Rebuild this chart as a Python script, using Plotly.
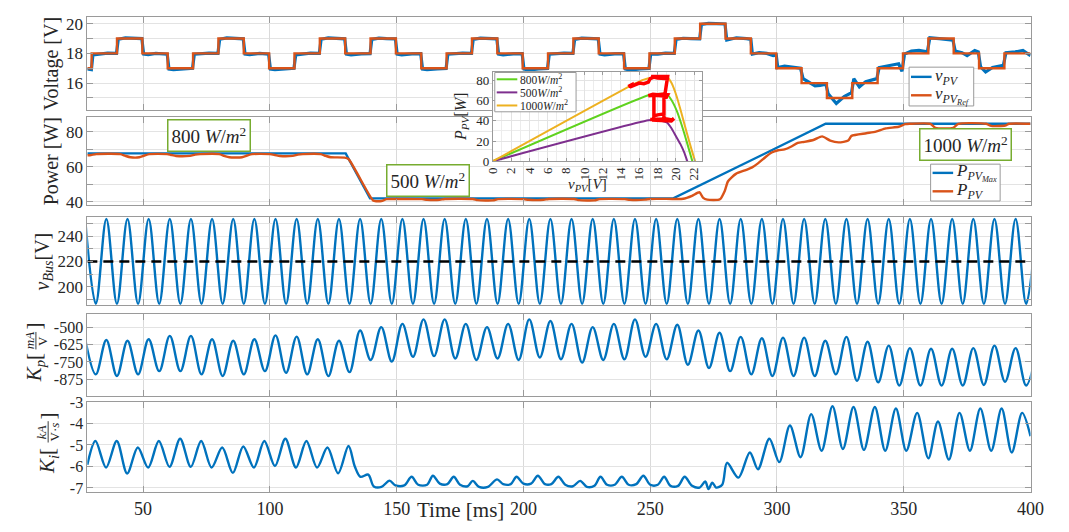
import plotly.graph_objects as go

# ---------------- data ----------------
# Panel 1: PV voltage reference (step changes) and measured PV voltage
VREF_T = [28, 29.7, 39.7, 49.7, 59.7, 69.7, 79.7, 89.7, 99.7, 109.7, 119.7, 129.7,
          139.7, 149.7, 159.7, 169.7, 179.7, 189.7, 199.7, 209.7, 219.7, 229.7, 239.7,
          249.7, 259.7, 269.7, 279.7, 289.7, 299.7, 309.7, 319.7, 329.7, 339.7, 349.7,
          359.7, 369.7, 379.7, 389.7, 400]
VREF_V = [17, 18, 19, 18, 17, 18, 19, 18, 17, 18, 19, 18,
          19, 18, 17, 18, 19, 18, 17, 18, 19, 18, 17,
          18, 19, 20, 19, 18, 17, 16, 15, 16, 17, 18,
          19, 18, 17, 18, 18]

VPV_T = [28, 29.6,
         30.2, 33, 36, 39.5, 40.2, 43, 46, 49.5, 50.2, 52, 55, 59.5, 60.2, 62, 66, 69.5,
         70.2, 73, 76, 79.5, 80.2, 83, 86, 89.5, 90.2, 92, 96, 99.5, 100.2, 102, 106, 109.5,
         110.2, 113, 116, 119.5, 120.2, 123, 126, 129.5, 130.2, 132, 136, 139.5,
         140.2, 143, 146, 149.5, 150.2, 152, 156, 159.5, 160.2, 162, 166, 169.5,
         170.2, 173, 176, 179.5, 180.2, 183, 186, 189.5, 190.2, 192, 196, 199.5,
         200.2, 202, 206, 209.5, 210.2, 213, 216, 219.5, 220.2, 223, 226, 229.5,
         230.2, 232, 236, 239.5, 240.2, 242, 246, 249.5, 250.2, 253, 256, 259.5,
         260.2, 263, 266, 269.5, 270.2, 273, 276, 279.5,
         280.2, 284, 288, 289.7, 290.3, 293, 296, 298.5, 299.7,
         300.3, 303, 306, 309.3, 310.3, 312.5, 315, 317, 319.3,
         320.2, 323.4, 326.5, 329.4, 330.3, 332.5, 335, 339.4,
         340.3, 344, 348, 349.3, 350.3, 353, 356, 359.3,
         360.3, 364, 368, 369.4, 370.3, 373, 375, 378, 379.4,
         380.3, 382.3, 385, 389.3, 390.3, 394, 397, 400]
VPV_V = [16.95, 16.9,
         17.9, 17.95, 18.02, 18.0, 18.95, 19.05, 19.02, 19.0, 17.95, 17.92, 18.0, 17.95, 16.95, 16.9, 16.95, 17.0,
         17.95, 17.98, 18.02, 18.0, 18.95, 19.05, 19.0, 18.98, 17.95, 17.92, 18.0, 17.95, 16.95, 16.9, 16.95, 17.0,
         17.9, 17.97, 18.02, 18.0, 18.95, 19.05, 19.02, 18.98, 17.95, 17.9, 17.97, 17.98,
         18.95, 19.03, 19.0, 18.98, 17.95, 17.9, 17.97, 17.98, 16.95, 16.9, 16.95, 16.98,
         17.95, 17.98, 18.02, 18.0, 18.95, 19.03, 19.0, 18.98, 17.95, 17.9, 17.97, 17.98,
         16.95, 16.88, 16.95, 16.98, 17.95, 17.98, 18.02, 18.0, 18.95, 19.03, 19.0, 18.98,
         17.95, 17.9, 17.97, 17.98, 16.95, 16.88, 16.95, 16.98, 17.95, 17.95, 18.02, 18.0,
         18.95, 19.02, 19.0, 18.98, 19.95, 20.02, 20.0, 19.98,
         18.9, 19.05, 19.0, 18.95, 17.95, 18.05, 18.0, 17.85, 17.9,
         17.05, 17.15, 17.1, 17.0, 16.3, 16.05, 15.82, 15.85, 15.93,
         15.28, 14.63, 15.1, 15.35, 16.3, 15.75, 16.1, 16.3,
         17.05, 17.15, 17.3, 16.8, 17.95, 18.15, 18.2, 18.1,
         19.05, 19.0, 18.95, 18.9, 18.15, 18.05, 17.85, 18.2, 18.1,
         17.1, 16.75, 17.05, 17.2, 18.05, 18.1, 18.2, 17.85]

# Panel 2: maximum available PV power and extracted PV power
PMAX_T = [28, 129.9, 139.5, 259.1, 319.2, 400]
PMAX_V = [67.7, 67.7, 42.0, 42.0, 84.6, 84.6]

PPV_T = [28, 29.5, 31.5, 41, 43, 45, 48.5, 50.5, 52.5, 59.5, 61, 63, 68.5, 70.5, 72.5,
         80, 82, 84, 89, 91, 93, 100, 102, 104, 109, 111, 113, 120, 122, 124, 129.5, 131,
         140.7, 142, 144, 146, 148, 152, 160, 162, 167, 169, 180, 182, 188, 190,
         200, 202, 208, 210, 220, 222, 228, 230, 240, 242, 248, 250, 259, 263,
         266.5, 269.4, 270.8, 272.5, 277.5, 279.4, 280.7, 283.8, 287.7, 290.2, 292.5,
         295.4, 297.9, 300.5, 303, 305.5, 308.2, 310.8, 314.6, 317.8, 321, 324.3,
         328.1, 329.4, 335.2, 339, 342.9, 348, 350.6, 352.5, 360.5, 362.5, 369.5,
         371.5, 382.5, 384.5, 390, 391.5, 400]
PPV_V = [66.6, 66.8, 67.3, 67.3, 66.3, 65.5, 65.5, 66.5, 67.3, 67.3, 66.8, 66.2, 66.3, 67.0, 67.3,
         67.3, 66.3, 65.5, 65.5, 66.5, 67.3, 67.3, 66.8, 66.2, 66.3, 67.0, 67.3, 67.3, 66.3, 65.5, 65.3, 64.5,
         40.8, 40.4, 40.5, 41.6, 41.7, 41.7, 41.6, 41.2, 41.2, 41.7, 41.7, 41.0, 40.9, 41.6,
         41.6, 41.2, 41.2, 41.7, 41.7, 41.0, 40.9, 41.6, 41.6, 41.2, 41.3, 41.7, 41.7, 41.8,
         43.5, 45.5, 42.5, 41.3, 41.5, 46.3, 51.8, 56.0, 58.2, 59.7, 62.0,
         65.5, 68.2, 69.5, 70.0, 71.5, 73.7, 74.3, 75.5, 77.4, 75.0, 74.0,
         75.0, 77.7, 79.2, 80.1, 82.0, 82.9, 84.4, 84.6, 84.6, 82.3, 82.3,
         84.6, 84.6, 83.4, 83.6, 84.6, 84.6]

# Panels 3-4: extremum times of the oscillation (ms), bus voltage and Kp at those instants
EXT_T = [27.16, 31.33, 35.50, 39.67, 43.84, 48.01, 52.18, 56.35, 60.52, 64.69,
         68.86, 73.03, 77.20, 81.37, 85.54, 89.71, 93.88, 98.05, 102.22, 106.39,
         110.56, 114.73, 118.90, 123.07, 127.24, 131.41, 135.58, 139.75, 143.92, 148.09,
         152.26, 156.43, 160.60, 164.77, 168.94, 173.11, 177.28, 181.45, 185.62, 189.79,
         193.96, 198.13, 202.30, 206.47, 210.64, 214.81, 218.98, 223.15, 227.32, 231.49,
         235.66, 239.83, 244.00, 248.17, 252.34, 256.51, 260.68, 264.85, 269.02, 273.19,
         277.36, 281.53, 285.70, 289.87, 294.04, 298.21, 302.38, 306.55, 310.72, 314.89,
         319.06, 323.23, 327.40, 331.57, 335.74, 339.91, 344.08, 348.25, 352.42, 356.59,
         360.76, 364.93, 369.10, 373.27, 377.44, 381.61, 385.78, 389.95, 394.12, 398.29,
         402.46]
VBUS_V = [253.5, 186.5, 253.5, 186.5, 253.5, 186.5, 253.5, 186.5, 253.5, 186.5,
          253.5, 186.5, 253.5, 186.5, 253.5, 186.5, 253.5, 186.5, 253.5, 186.5,
          253.5, 186.5, 253.5, 186.5, 253.5, 186.5, 253.5, 186.5, 253.5, 186.5,
          253.5, 186.5, 253.5, 186.5, 253.5, 186.5, 253.5, 186.5, 253.5, 186.5,
          253.5, 186.5, 253.5, 186.5, 253.5, 186.5, 253.5, 186.5, 253.5, 186.5,
          253.5, 186.5, 253.5, 186.5, 253.5, 186.5, 253.5, 186.5, 253.5, 186.5,
          253.5, 186.5, 253.5, 186.5, 253.5, 186.5, 253.5, 186.5, 253.5, 186.5,
          253.5, 186.5, 253.5, 186.5, 253.5, 186.5, 253.5, 186.5, 253.5, 186.5,
          253.5, 186.5, 253.5, 186.5, 253.5, 186.5, 253.5, 186.5, 253.5, 186.5,
          253.5]
VBUS_REF_T = [28, 400]
VBUS_REF_V = [220, 220]
KP_V = [-585, -840, -592, -852, -597, -840, -586, -817, -562, -817,
        -562, -840, -586, -852, -597, -840, -586, -817, -558, -829,
        -567, -840, -586, -852, -597, -824, -523, -736, -498, -748,
        -475, -713, -442, -708, -442, -725, -475, -736, -498, -725,
        -475, -736, -442, -718, -454, -731, -475, -755, -498, -736,
        -475, -731, -442, -713, -475, -731, -481, -771, -523, -794,
        -539, -817, -569, -840, -579, -852, -574, -852, -574, -852,
        -597, -840, -569, -887, -604, -898, -632, -921, -650, -921,
        -655, -921, -655, -921, -650, -917, -632, -894, -650, -921,
        -660]

# Panel 5: Ki
KI_T = [28, 31.2, 35.4, 39.6, 43.7, 47.9, 52.0, 56.2, 60.4, 64.6, 68.8, 72.9, 77.0, 81.2,
        85.4, 89.5, 93.7, 97.8, 102.0, 106.1, 110.3, 114.4, 118.6, 122.7, 126.9, 131.0,
        133.5, 135.7, 138.8, 141.0, 144.0, 147.2, 149.5, 153.0, 155.9, 158.5, 162.0,
        164.3, 167.0, 170.0, 172.5, 175.0, 178.0, 180.0, 182.5, 186.0, 189.6, 192.0, 195.0,
        197.3, 200.0, 203.0, 205.7, 208.5, 211.0, 213.8, 216.5, 219.5, 222.4, 225.0, 228.0,
        230.4, 233.0, 236.0, 238.8, 241.5, 244.5, 247.3, 250.0, 253.0, 255.5, 258.0, 261.0,
        263.6, 266.5, 269.5, 271.7, 273.0, 274.5, 276.0, 278.4,
        280.3, 284.8, 289.3, 292.5, 297.0, 300.9, 305.1, 309.3, 313.5, 317.6, 321.9, 326.0,
        330.2, 334.3, 338.6, 342.7, 346.9, 351.0, 355.3, 359.7, 363.5, 367.8, 372.0, 376.1,
        380.2, 384.5, 388.6, 392.6, 396.7, 400.0]
KI_V = [-5.92, -4.82, -6.05, -4.82, -6.33, -5.12, -6.05, -4.82, -6.02, -4.71, -6.02, -4.82, -6.05, -5.12,
        -6.30, -5.07, -6.05, -4.82, -5.98, -4.71, -6.05, -4.82, -6.05, -5.12, -6.32, -5.05,
        -6.0, -6.48, -6.38, -6.93, -6.95, -6.66, -6.88, -6.88, -6.48, -6.85, -6.85,
        -6.43, -6.8, -6.82, -6.48, -6.85, -6.92, -6.67, -6.95, -6.95, -6.6, -6.82, -6.82,
        -6.48, -6.8, -6.8, -6.43, -6.82, -6.82, -6.48, -6.85, -6.92, -6.67, -6.95, -6.9,
        -6.48, -6.85, -6.85, -6.48, -6.85, -6.82, -6.43, -6.85, -6.85, -6.48, -6.9, -6.9,
        -6.48, -6.9, -6.98, -6.7, -7.05, -6.75, -6.98, -6.85,
        -5.83, -6.52, -5.35, -6.13, -4.71, -5.80, -4.10, -5.57, -3.57, -5.27, -3.20, -5.19,
        -3.24, -5.23, -3.24, -5.27, -3.31, -5.27, -3.51, -5.62, -3.91, -5.68, -3.51, -5.27,
        -3.31, -5.27, -3.31, -5.35, -3.51, -4.59]

# Inset: P-V curves and MPPT trajectory
C800_V = [0, 17, 18, 19, 19.5, 20.1, 20.6, 21.2, 21.8]
C800_P = [0, 65.5, 66.8, 66.5, 61, 50, 37, 19, 0]
C500_V = [0, 17, 18, 19, 19.5, 20.0, 20.5, 20.9, 21.25]
C500_P = [0, 40.6, 41, 38.5, 33, 25, 17, 9, 0]
C1000_V = [0, 15.5, 16.5, 17.5, 18.5, 19.0, 19.5, 20.1, 20.6, 21.2, 21.7, 22.1]
C1000_P = [0, 77, 81, 83, 84, 83.8, 78, 64, 48, 28, 12, 0]
MPPT_V = [14.8, 15.2, 15.2, 16.0, 16.5, 17.0, 17.2, 17.6, 18.2, 19.0, 19.0, 18.0, 17.3, 18.6, 19.1,
          18.8, 17.0, 17.5, 18.0, 18.6, 19.1, 19.0, 17.6, 17.6, 17.6, 18.0, 18.7, 18.7, 18.7, 19.1,
          18.7, 18.7, 17.2, 17.6, 18.2, 19.0, 19.6, 19.8, 19.5, 18.4, 17.4]
MPPT_P = [74, 76, 74.5, 77.5, 77, 78.5, 82, 83.5, 84, 83.5, 82, 82.5, 84, 84.5, 84,
          66, 65, 66.5, 66, 66.5, 66, 64.5, 65.5, 55, 45, 46, 47, 55, 63, 64,
          64, 42, 41.5, 42, 41.5, 42, 41, 42.5, 40, 40.5, 41]

# ---------------- style ----------------
W, H = 1069, 532
FONT = "Liberation Serif"
BLUE = "#0072BD"
ORANGE = "#D95319"
GREEN_BOX = "#77AC30"
G800, P500, Y1000 = "#5FD21E", "#7E2F8E", "#EDB120"
AXC = "#9a9a9a"
GRIDC = "#e3e3e3"
TXT = "#262626"


def px(x):
    return x / W


def py(y):
    return 1 - y / H


X0, X1 = 81, 1044
PANELS = [(9.3, 105), (112.7, 203), (215, 306.7), (315, 400.5), (406, 499.3)]

fig = go.Figure()

# Panel 1
fig.add_trace(go.Scatter(x=VPV_T, y=VPV_V, mode="lines", line=dict(color=BLUE, width=3.2),
                         showlegend=False, xaxis="x", yaxis="y"))
fig.add_trace(go.Scatter(x=VREF_T, y=VREF_V, mode="lines", line=dict(color=ORANGE, width=2.4, shape="hv"),
                         showlegend=False, xaxis="x", yaxis="y"))
# Panel 2
fig.add_trace(go.Scatter(x=PMAX_T, y=PMAX_V, mode="lines", line=dict(color=BLUE, width=2.4),
                         showlegend=False, xaxis="x2", yaxis="y2"))
fig.add_trace(go.Scatter(x=PPV_T, y=PPV_V, mode="lines", line=dict(color=ORANGE, width=2.4, shape="spline", smoothing=0.6),
                         showlegend=False, xaxis="x2", yaxis="y2"))
# Panel 3
fig.add_trace(go.Scatter(x=EXT_T, y=VBUS_V, mode="lines", line=dict(color=BLUE, width=2.4, shape="spline", smoothing=1.0),
                         showlegend=False, xaxis="x3", yaxis="y3"))
fig.add_trace(go.Scatter(x=VBUS_REF_T, y=VBUS_REF_V, mode="lines", line=dict(color="black", width=2.4, dash="10px,6px"),
                         showlegend=False, xaxis="x3", yaxis="y3"))
# Panel 4
fig.add_trace(go.Scatter(x=EXT_T, y=KP_V, mode="lines", line=dict(color=BLUE, width=2.4, shape="spline", smoothing=1.0),
                         showlegend=False, xaxis="x4", yaxis="y4"))
# Panel 5
fig.add_trace(go.Scatter(x=KI_T, y=KI_V, mode="lines", line=dict(color=BLUE, width=2.4, shape="spline", smoothing=0.9),
                         showlegend=False, xaxis="x5", yaxis="y5"))
# Inset
fig.add_trace(go.Scatter(x=C800_V, y=C800_P, mode="lines", line=dict(color=G800, width=2, shape="spline", smoothing=0.5),
                         showlegend=False, xaxis="x6", yaxis="y6"))
fig.add_trace(go.Scatter(x=C500_V, y=C500_P, mode="lines", line=dict(color=P500, width=2, shape="spline", smoothing=0.5),
                         showlegend=False, xaxis="x6", yaxis="y6"))
fig.add_trace(go.Scatter(x=C1000_V, y=C1000_P, mode="lines", line=dict(color=Y1000, width=2, shape="spline", smoothing=0.5),
                         showlegend=False, xaxis="x6", yaxis="y6"))
fig.add_trace(go.Scatter(x=MPPT_V, y=MPPT_P, mode="lines", line=dict(color="#FF0000", width=3.5),
                         showlegend=False, xaxis="x6", yaxis="y6"))

base_x = dict(range=[28, 400], tickvals=[50, 100, 150, 200, 250, 300, 350, 400], showline=True,
              linecolor=AXC, linewidth=1, mirror="ticks", ticks="inside", ticklen=6, tickcolor=AXC,
              showgrid=True, gridcolor="#dadada", zeroline=False, domain=[px(X0), px(X1)],
              tickfont=dict(family=FONT, size=18, color=TXT))


def yax(i, rng, tickvals, ticktext=None, minor_dtick=None, size=17):
    top, bot = PANELS[i]
    d = dict(range=rng, tickvals=tickvals, showline=True, linecolor=AXC, linewidth=1, mirror="ticks",
             ticks="inside", ticklen=6, tickcolor=AXC, showgrid=True, gridcolor=GRIDC, zeroline=False,
             domain=[py(bot), py(top)], tickfont=dict(family=FONT, size=size, color=TXT))
    if ticktext is not None:
        d["ticktext"] = ticktext
    if minor_dtick is not None:
        d["minor"] = dict(dtick=minor_dtick, tick0=0, showgrid=True, gridcolor=GRIDC, ticks="inside",
                          ticklen=6, tickcolor=AXC)
    return d


layout = dict(
    width=W, height=H, margin=dict(l=0, r=0, t=0, b=0),
    paper_bgcolor="white", plot_bgcolor="white", showlegend=False,
    font=dict(family=FONT, color=TXT),
)
for i in range(5):
    key = "xaxis" if i == 0 else f"xaxis{i + 1}"
    d = dict(base_x)
    d["anchor"] = "y" if i == 0 else f"y{i + 1}"
    d["showticklabels"] = (i == 4)
    layout[key] = d

layout["yaxis"] = yax(0, [14.2, 20.45], [16, 18, 20], minor_dtick=1)
layout["yaxis"]["anchor"] = "x"
layout["yaxis2"] = yax(1, [38.3, 88.3], [40, 60, 80], minor_dtick=10)
layout["yaxis2"]["anchor"] = "x2"
layout["yaxis3"] = yax(2, [185.2, 255.5], [200, 220, 240], minor_dtick=10)
layout["yaxis3"]["anchor"] = "x3"
layout["yaxis4"] = yax(3, [-1000, -400], [-500, -625, -750, -875], ["-500", "-625", "-750", "-875"], size=16)
layout["yaxis4"]["anchor"] = "x4"
layout["yaxis5"] = yax(4, [-7.2, -2.995], [-7, -6, -5, -4, -3], ["-7", "-6", "-5", "-4", "-3"], size=16)
layout["yaxis5"]["anchor"] = "x5"

# inset axes
IX0, IX1, IY0, IY1 = 495, 709, 66, 158
layout["xaxis6"] = dict(domain=[px(IX0), px(IX1)], anchor="y6", range=[0, 22.9],
                        tickvals=list(range(0, 23, 2)), tickangle=-90, showline=True, linecolor=AXC,
                        mirror="ticks", ticks="inside", ticklen=3, tickcolor=AXC, showgrid=True,
                        gridcolor=GRIDC, zeroline=False, tickfont=dict(family=FONT, size=13, color=TXT),
                        minor=dict(dtick=1, showgrid=True, gridcolor="#ececec"))
layout["yaxis6"] = dict(domain=[py(IY1), py(IY0)], anchor="x6", range=[0, 88.5],
                        tickvals=[0, 20, 40, 60, 80], showline=True, linecolor=AXC, mirror="ticks",
                        ticks="inside", ticklen=3, tickcolor=AXC, showgrid=True, gridcolor=GRIDC,
                        zeroline=False, tickfont=dict(family=FONT, size=13, color=TXT),
                        minor=dict(dtick=10, showgrid=True, gridcolor="#ececec"))

ann = []
shapes = []


def text_ann(text, x, y, size=20, angle=-90, xanchor="center"):
    ann.append(dict(text=text, x=px(x), y=py(y), xref="paper", yref="paper", showarrow=False,
                    textangle=angle, xanchor=xanchor, yanchor="middle",
                    font=dict(family=FONT, size=size, color=TXT)))


def seg(x0, y0, x1, y1, color, width):
    shapes.append(dict(type="line", xref="paper", yref="paper", x0=px(x0), y0=py(y0),
                       x1=px(x1), y1=py(y1), line=dict(color=color, width=width)))


# axis titles
text_ann("Voltage [V]", 44, 57)
text_ann("Power [W]", 44, 158)
text_ann("<i>v<sub>Bus</sub></i>[V]", 36, 261)
# Kp label with stacked fraction
text_ann("<i>K<sub>p</sub></i>[", 27, 371, size=21)
text_ann("<i>mA</i>", 22, 343, size=13)
seg(28.5, 334, 28.5, 352, TXT, 0.9)
text_ann("V", 35, 343, size=13)
text_ann("]", 27, 328, size=21)
# Ki label with stacked fraction
text_ann("<i>K<sub>i</sub></i>[", 41, 467, size=21)
text_ann("<i>kA</i>", 35, 437, size=13)
seg(41, 426, 41, 448, TXT, 0.9)
text_ann("V·<i>s</i>", 47.5, 437, size=13)
text_ann("]", 41, 421, size=21)

text_ann("Time [ms]", 462, 518, size=21, angle=0)
text_ann("<i>P<sub>PV</sub></i>[<i>W</i>]", 463, 112, size=16)
text_ann("<i>v<sub>PV</sub></i>[<i>V</i>]", 592, 182, size=15, angle=0)


def box_ann(text, x, y):
    ann.append(dict(text=text, x=px(x), y=py(y), xref="paper", yref="paper", showarrow=False,
                    xanchor="center", yanchor="middle", bgcolor="white", bordercolor=GREEN_BOX,
                    borderwidth=1.5, borderpad=3, font=dict(family=FONT, size=19, color=TXT)))


box_ann("800 <i>W</i>/<i>m</i><sup>2</sup>", 205, 131.5)
box_ann("500 <i>W</i>/<i>m</i><sup>2</sup>", 429, 178)
box_ann("1000 <i>W</i>/<i>m</i><sup>2</sup>", 977.5, 140.5)


def legend_box(x0, y0, x1, y1, entries, lx0, lx1, tx, size, lw):
    shapes.append(dict(type="rect", xref="paper", yref="paper", x0=px(x0), y0=py(y1), x1=px(x1), y1=py(y0),
                       line=dict(color=AXC, width=1), fillcolor="white"))
    for (label, color, yy) in entries:
        seg(lx0, yy, lx1, yy, color, lw)
        text_ann(label, tx, yy, size=size, angle=0, xanchor="left")


legend_box(920, 61, 986, 101,
           [("<i>v<sub>PV</sub></i>", BLUE, 71), ("<i>v<sub>PV<sub>Ref</sub></sub></i>", ORANGE, 90)],
           922, 943, 944, 17, 2.4)
legend_box(942, 161, 1013, 199,
           [("<i>P<sub>PV<sub>Max</sub></sub></i>", BLUE, 170), ("<i>P<sub>PV</sub></i>", ORANGE, 189)],
           944, 965, 966, 17, 2.4)
legend_box(497, 66.5, 580, 107,
           [("800<i>W</i>/<i>m</i><sup>2</sup>", G800, 73.5), ("500<i>W</i>/<i>m</i><sup>2</sup>", P500, 87),
            ("1000<i>W</i>/<i>m</i><sup>2</sup>", Y1000, 100.5)],
           499, 520, 521, 11.5, 2)

layout["annotations"] = ann
layout["shapes"] = shapes
fig.update_layout(layout)

fig.write_html("out.html")
